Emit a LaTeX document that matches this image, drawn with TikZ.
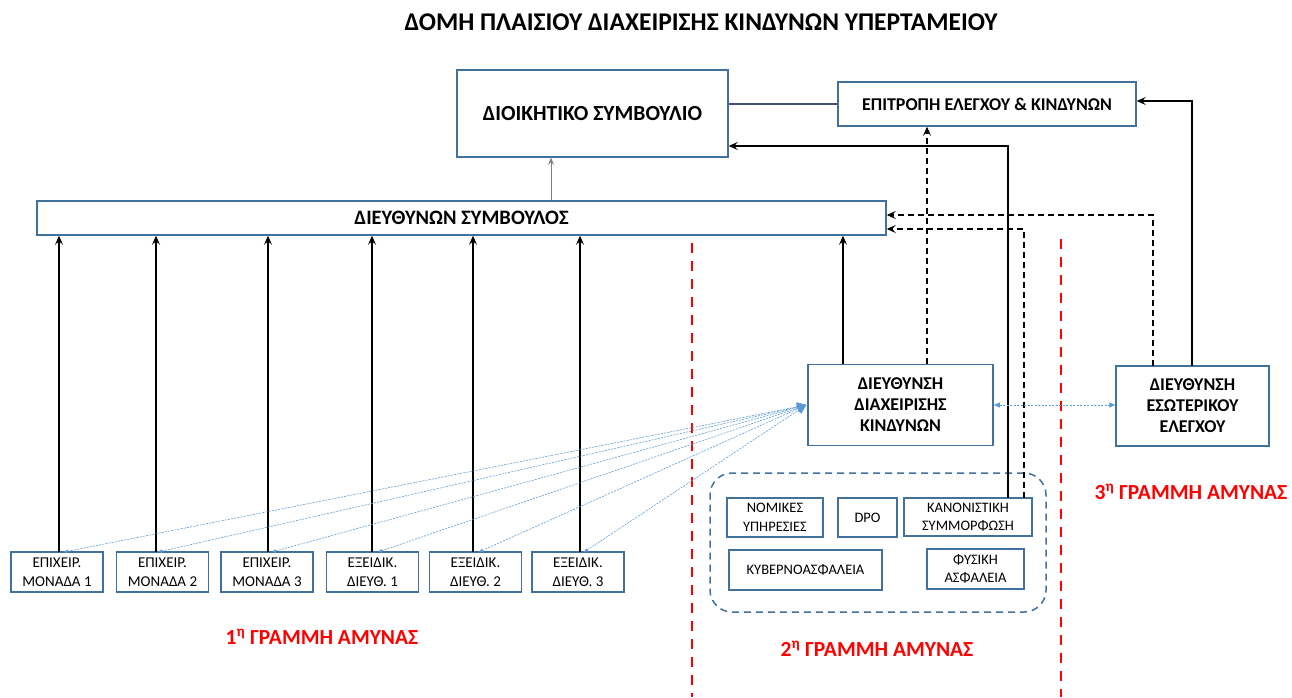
\documentclass[tikz,border=0pt]{standalone}
\usepackage{fontspec}
\setmainfont{Carlito}
\usetikzlibrary{arrows.meta}
\definecolor{bx}{HTML}{41719C}
\definecolor{lb}{HTML}{5B9BD5}
\definecolor{rd}{HTML}{FF0000}
\definecolor{ln}{HTML}{3F5371}
\begin{document}
\begin{tikzpicture}[x=1pt,y=-1pt,
  box/.style={draw=bx,line width=1.5pt,fill=white,align=center,inner sep=0pt},
  unit/.style={box,minimum width=92pt,minimum height=40pt,font=\fontsize{15}{19}\selectfont},
  inner/.style={box,font=\fontsize{14.5}{18.5}\selectfont},
  blk/.style={line width=1.1pt,-{Stealth[length=9pt,width=8pt,inset=3.5pt]}},
  dsh/.style={blk,dash pattern=on 6pt off 4pt},
  blu/.style={lb,line width=0.6pt,dash pattern=on 2pt off 1.2pt,{Triangle[length=4pt,width=3.5pt]}-{Triangle[length=9pt,width=9pt]}},
  redl/.style={rd,line width=2pt,dash pattern=on 10pt off 8pt},
  lab/.style={rd,font=\fontsize{21.5}{24}\selectfont\bfseries,inner sep=0pt}
]
\useasboundingbox (0,0) rectangle (1292,697);
\node[font=\fontsize{25.5}{28}\selectfont\bfseries,inner sep=0pt] (title) at (701,22) {ΔΟΜΗ ΠΛΑΙΣΙΟΥ ΔΙΑΧΕΙΡΙΣΗΣ ΚΙΝΔΥΝΩΝ ΥΠΕΡΤΑΜΕΙΟΥ};

% container
\node[draw=bx,line width=1.5pt,dash pattern=on 7pt off 5pt,rounded corners=22pt,minimum width=336pt,minimum height=139pt] (grp) at (878,542.5) {};

\node[box,minimum width=271pt,minimum height=87pt,font=\fontsize{21.5}{24}\selectfont\bfseries] (board) at (592.5,113.5) {ΔΙΟΙΚΗΤΙΚΟ ΣΥΜΒΟΥΛΙΟ};
\node[box,minimum width=298pt,minimum height=44pt,font=\fontsize{18}{20}\selectfont\bfseries] (comm) at (987,104) {ΕΠΙΤΡΟΠΗ ΕΛΕΓΧΟΥ \& ΚΙΝΔΥΝΩΝ};
\node[box,minimum width=849pt,minimum height=34pt,font=\fontsize{20.5}{22}\selectfont\bfseries] (ceo) at (461.5,218) {ΔΙΕΥΘΥΝΩΝ ΣΥΜΒΟΥΛΟΣ};
\node[box,minimum width=185pt,minimum height=81pt,font=\fontsize{18}{21}\selectfont\bfseries] (risk) at (900.5,405) {ΔΙΕΥΘΥΝΣΗ\\ΔΙΑΧΕΙΡΙΣΗΣ\\ΚΙΝΔΥΝΩΝ};
\node[box,minimum width=153pt,minimum height=80pt,font=\fontsize{18}{21}\selectfont\bfseries] (audit) at (1192.5,406) {ΔΙΕΥΘΥΝΣΗ\\ΕΣΩΤΕΡΙΚΟΥ\\ΕΛΕΓΧΟΥ};

\node[unit] (u1) at (57,572) {ΕΠΙΧΕΙΡ.\\ΜΟΝΑΔΑ 1};
\node[unit] (u2) at (162.5,572) {ΕΠΙΧΕΙΡ.\\ΜΟΝΑΔΑ 2};
\node[unit] (u3) at (267,572) {ΕΠΙΧΕΙΡ.\\ΜΟΝΑΔΑ 3};
\node[unit] (u4) at (372.5,572) {ΕΞΕΙΔΙΚ.\\ΔΙΕΥΘ. 1};
\node[unit] (u5) at (475.5,572) {ΕΞΕΙΔΙΚ.\\ΔΙΕΥΘ. 2};
\node[unit] (u6) at (578,572) {ΕΞΕΙΔΙΚ.\\ΔΙΕΥΘ. 3};

\node[inner,minimum width=96pt,minimum height=39pt] (nom) at (775,517.5) {ΝΟΜΙΚΕΣ\\ΥΠΗΡΕΣΙΕΣ};
\node[inner,minimum width=59pt,minimum height=39pt] (dpo) at (867.5,517.5) {DPO};
\node[inner,minimum width=128pt,minimum height=38pt] (kan) at (968,517) {ΚΑΝΟΝΙΣΤΙΚΗ\\ΣΥΜΜΟΡΦΩΣΗ};
\node[inner,minimum width=153pt,minimum height=40pt] (kyb) at (805.5,570) {ΚΥΒΕΡΝΟΑΣΦΑΛΕΙΑ};
\node[inner,minimum width=97pt,minimum height=40pt] (fys) at (975.5,569) {ΦΥΣΙΚΗ\\ΑΣΦΑΛΕΙΑ};

\node[lab] (l1) at (322,637) {1\textsuperscript{η} ΓΡΑΜΜΗ ΑΜΥΝΑΣ};
\node[lab] (l2) at (877,649) {2\textsuperscript{η} ΓΡΑΜΜΗ ΑΜΥΝΑΣ};
\node[lab] (l3) at (1191,492) {3\textsuperscript{η} ΓΡΑΜΜΗ ΑΜΥΝΑΣ};

% red separators
\coordinate (r1t) at (692,243); \coordinate (r1b) at (692,697);
\coordinate (r2t) at (1061,239); \coordinate (r2b) at (1061,697);
\draw[redl] (r1t) -- (r1b);
\draw[redl] (r2t) -- (r2b);

% helper coordinates
\coordinate (xg) at (551,0);
\coordinate (xr) at (843,0);
\coordinate (xd) at (927,0);
\coordinate (yB) at (0,146);
\coordinate (yC1) at (0,215);
\coordinate (yC2) at (0,229);
\coordinate (yE) at (0,101);
\coordinate (k1) at (1008,498);
\coordinate (k2) at (1024,498);
\coordinate (a1) at (1153,366);
\coordinate (a2) at (1192,366);

\draw[ln,line width=1.5pt] (board.east |- comm.west) -- (comm.west);
\draw[gray,line width=0.7pt,-{Stealth[length=7pt,width=6pt,inset=2.5pt]}] (ceo.north -| xg) -- (board.south -| xg);

% unit arrows up
\foreach \u/\x in {u1/59,u2/156,u3/268,u4/372,u5/473,u6/580}{
  \coordinate (p\u) at (\x,552);
  \draw[blk] (p\u) -- (ceo.south -| p\u);
}
\draw[blk] (risk.north -| xr) -- (ceo.south -| xr);
\draw[dsh] (risk.north -| xd) -- (comm.south -| xd);
\draw[blk] (k1) |- (board.east |- yB);
\draw[dsh] (k2) |- (ceo.east |- yC2);
\draw[dsh] (a1) |- (ceo.east |- yC1);
\draw[blk] (a2) |- (comm.east |- yE);

% blue dotted
\foreach \u/\x in {u1/64,u2/158,u3/272,u4/378,u5/479,u6/584}{
  \coordinate (q\u) at (\x,552);
  \draw[blu] (q\u) -- ([xshift=-1pt]risk.west);
}
\draw[lb,line width=0.7pt,dash pattern=on 2pt off 1.5pt,{Triangle[length=6pt,width=5pt]}-{Triangle[length=6pt,width=5pt]}] (risk.east) -- (audit.west |- risk.east);
\end{tikzpicture}
\end{document}
